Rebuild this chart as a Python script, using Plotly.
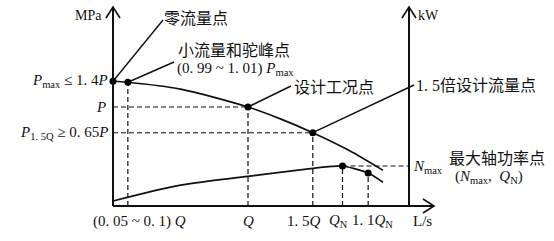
import plotly.graph_objects as go

# ---- data (relative units: x in multiples of Q, y in multiples of P) ----
pressure_x = [0.0, 0.11, 0.5, 1.0, 1.24, 1.48, 1.75, 2.0]
pressure_y = [1.26, 1.25, 1.18, 1.0, 0.88, 0.74, 0.56, 0.36]

power_x = [0.0, 0.5, 1.0, 1.48, 1.62, 1.70, 1.78, 1.89, 2.0]
power_y = [0.05, 0.21, 0.30, 0.38, 0.40, 0.404, 0.38, 0.333, 0.24]

# key points on the head curve: zero flow, hump, design, 1.5 x design
head_pts_x = [0.0, 0.11, 1.0, 1.48]
head_pts_y = [1.26, 1.25, 1.0, 0.74]
# key points on the power curve: Nmax at QN, 1.1 QN
pow_pts_x = [1.70, 1.89]
pow_pts_y = [0.404, 0.333]

x_tick_labels = ["(0. 05 ~ 0. 1) <i>Q</i>", "<i>Q</i>", "1. 5<i>Q</i>",
                 "<i>Q</i><sub>N</sub>", "1. 1<i>Q</i><sub>N</sub>", "L/s"]

W, H = 554, 241
X0PX, PXX = 113, 135.0   # pixel of x=0, pixels per unit
Y0PX, PXY = 206, 99.0    # pixel of y=0, pixels per unit


def X(px):
    return (px - X0PX) / PXX


def Y(py):
    return (Y0PX - py) / PXY


RIGHT_AXIS = X(409)
INK = "#111111"
SERIF = "Liberation Serif, Noto Sans CJK SC"
CJK = "Noto Sans CJK SC"

fig = go.Figure()

# dashed guide lines (derived from key points)
dash_style = dict(color=INK, width=1.2, dash="5px,3px")
guides = [(head_pts_x[1], head_pts_y[1]), (head_pts_x[2], head_pts_y[2]),
          (head_pts_x[3], head_pts_y[3]), (pow_pts_x[0], pow_pts_y[0]),
          (pow_pts_x[1], pow_pts_y[1])]
for gx, gy in guides:
    fig.add_trace(go.Scatter(x=[gx, gx], y=[0, gy], mode="lines",
                             line=dash_style, hoverinfo="skip"))
for gx, gy in [(head_pts_x[2], head_pts_y[2]), (head_pts_x[3], head_pts_y[3])]:
    fig.add_trace(go.Scatter(x=[0, gx], y=[gy, gy], mode="lines",
                             line=dash_style, hoverinfo="skip"))
fig.add_trace(go.Scatter(x=[pow_pts_x[0], RIGHT_AXIS], y=[pow_pts_y[0], pow_pts_y[0]],
                         mode="lines", line=dash_style, hoverinfo="skip"))

# curves
fig.add_trace(go.Scatter(x=pressure_x, y=pressure_y, mode="lines",
                         line=dict(color=INK, width=1.7, shape="spline", smoothing=0.8)))
fig.add_trace(go.Scatter(x=power_x, y=power_y, mode="lines",
                         line=dict(color=INK, width=1.7, shape="spline", smoothing=0.8)))

# leader lines
leaders = [((head_pts_x[0], head_pts_y[0]), (163, 20)),
           ((head_pts_x[1], head_pts_y[1]), (174, 62)),
           ((head_pts_x[2], head_pts_y[2]), (291, 86)),
           ((head_pts_x[3], head_pts_y[3]), (414, 85))]
for (lx, ly), (px, py) in leaders:
    fig.add_trace(go.Scatter(x=[lx, X(px)], y=[ly, Y(py)], mode="lines",
                             line=dict(color=INK, width=1.4), hoverinfo="skip"))

# key-point dots
fig.add_trace(go.Scatter(x=head_pts_x + pow_pts_x, y=head_pts_y + pow_pts_y,
                         mode="markers", marker=dict(color="black", size=7)))

shapes = []
axis_line = dict(color=INK, width=2)
# left axis, right axis, bottom axis
shapes.append(dict(type="line", x0=0, y0=0, x1=0, y1=Y(7), line=axis_line))
shapes.append(dict(type="line", x0=RIGHT_AXIS, y0=0, x1=RIGHT_AXIS, y1=Y(7), line=axis_line))
shapes.append(dict(type="line", x0=0, y0=0, x1=X(433), y1=0, line=axis_line))
# open chevron arrow heads
for ax in (113, 409):
    shapes.append(dict(type="path",
                       path=f"M {X(ax-7)},{Y(18)} L {X(ax)},{Y(7)} L {X(ax+7)},{Y(18)}",
                       line=dict(color=INK, width=1.6)))
shapes.append(dict(type="path",
                   path=f"M {X(423)},{Y(199)} L {X(434)},{Y(206)} L {X(423)},{Y(213)}",
                   line=dict(color=INK, width=1.6)))

ann = []


def text(t, px, py, xanchor="left", size=15, family=SERIF):
    ann.append(dict(text=t, x=X(px), y=Y(py), xref="x", yref="y", showarrow=False,
                    xanchor=xanchor, yanchor="middle",
                    font=dict(family=family, size=size, color=INK)))


text("MPa", 104, 15, "right", 14)
text("kW", 416, 15, "left", 14)
text("零流量点", 162, 17, "left", 16, CJK)
text("小流量和驼峰点", 176, 49, "left", 16, CJK)
text("(0. 99 ~ 1. 01) <i>P</i><sub>max</sub>", 175, 69, "left", 15)
text("设计工况点", 292, 86, "left", 16, CJK)
text("1. 5倍设计流量点", 414, 85, "left", 16)
text("最大轴功率点", 447, 157, "left", 16, CJK)
text("(<i>N</i><sub>max</sub>,  <i>Q</i><sub>N</sub>)", 453, 177, "left", 15)
text("<i>N</i><sub>max</sub>", 411, 167, "left", 15)
text("<i>P</i><sub>max</sub> ≤ 1. 4<i>P</i>", 110, 81, "right", 15)
text("<i>P</i>", 108, 107, "right", 15)
text("<i>P</i><sub>1. 5Q</sub> ≥ 0. 65<i>P</i>", 110, 133, "right", 15)

# bottom labels: (pixel x, anchor)
tick_pos = [(139, "center"), (248, "center"), (323, "right"),
            (327, "left"), (350, "left"), (422, "center")]
for lab, (px, anc) in zip(x_tick_labels, tick_pos):
    text(lab, px, 221, anc, 15)

fig.update_layout(
    width=W, height=H, autosize=False,
    margin=dict(l=0, r=0, t=0, b=0, pad=0),
    paper_bgcolor="white", plot_bgcolor="white",
    showlegend=False,
    xaxis=dict(range=[X(0), X(W)], visible=False, fixedrange=True),
    yaxis=dict(range=[Y(H), Y(0)], visible=False, fixedrange=True),
    shapes=shapes, annotations=ann,
)

fig.write_html("out.html")
